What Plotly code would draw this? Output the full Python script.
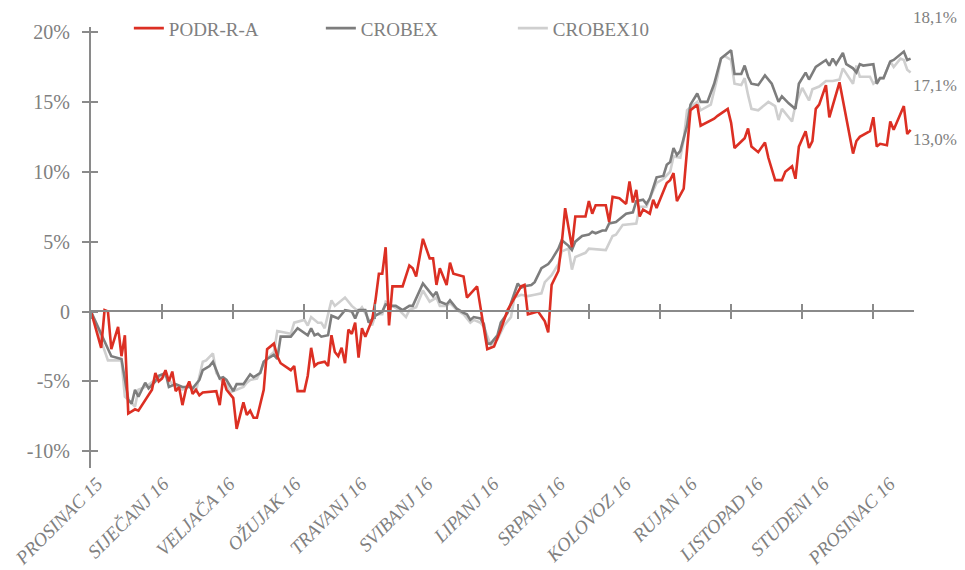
import plotly.graph_objects as go

# ---------------- data (trading-day index, % change) ----------------
podr_days = [0,3,4,5,6,7,8,9,10,11,13,14,18,19,20,21,22,23,24,25,26,27,28,29,30,31,32,33,37,38,39,40,42,43,45,46,47,48,49,51,52,54,55,56,59,60,61,63,64,65,66,67,69,70,71,72,73,74,75,76,77,78,79,80,81,82,83,84,85,86,87,88,89,92,94,95,96,98,100,101,102,103,105,106,107,110,111,114,115,117,119,121,123,125,127,128,129,132,134,135,136,138,139,140,142,143,146,147,148,149,152,153,154,156,158,159,160,161,162,163,165,166,167,170,171,172,173,175,177,179,180,184,185,188,189,190,193,194,195,197,199,200,202,204,205,207,208,209,211,212,213,214,215,217,218,221,225,226,227,230,231,232,233,235,236,237,240,241,242]
podr_vals = [0.0,-2.6,0.1,0.0,-2.7,-1.8,-1.1,-3.2,-1.7,-7.3,-7.0,-7.1,-5.6,-4.4,-5.0,-4.8,-4.2,-5.0,-4.3,-5.7,-5.4,-6.7,-5.6,-5.0,-5.9,-5.6,-6.0,-5.8,-5.7,-6.7,-4.8,-5.6,-6.2,-8.4,-6.5,-7.4,-7.1,-7.6,-7.6,-5.6,-2.7,-2.3,-3.2,-3.7,-4.2,-3.9,-5.7,-5.7,-4.6,-2.6,-3.9,-3.7,-3.6,-3.9,-1.7,-2.9,-3.2,-2.6,-3.7,-1.3,-1.6,-0.8,-3.3,-1.2,-1.8,-1.2,-0.6,0.8,2.7,2.7,4.6,-1.0,1.8,1.8,3.3,3.1,2.5,5.2,3.8,3.8,1.9,3.1,1.9,3.5,2.7,2.5,1.0,1.8,0.4,-2.7,-2.5,-1.3,0.1,1.0,1.8,1.9,-0.2,0.0,-0.7,-1.5,1.9,2.9,4.9,7.4,4.6,6.8,6.8,7.9,7.0,7.6,7.6,6.4,8.2,8.1,7.7,9.3,7.8,8.7,6.8,7.3,7.0,8.0,7.4,9.2,9.4,9.9,7.9,8.8,14.4,14.8,13.3,13.8,14.0,14.5,13.5,11.7,12.4,13.1,11.8,11.4,12.1,11.0,9.4,9.4,10.0,10.4,9.5,11.8,12.9,11.7,12.2,14.5,14.8,16.2,13.9,16.4,11.3,12.2,12.5,12.9,13.9,11.8,12.0,11.9,13.6,13.0,14.7,12.7,13.0]

crobex_days = [0,6,9,11,12,13,14,16,17,19,20,22,23,25,27,29,30,32,33,35,36,38,39,40,42,43,45,46,47,48,50,51,52,54,55,56,59,61,63,64,65,66,67,68,70,71,73,75,77,78,79,81,82,84,86,87,89,90,92,94,95,97,98,101,102,103,105,106,108,110,111,112,113,115,116,117,118,120,121,123,124,126,127,128,130,131,133,135,136,138,139,141,142,143,145,147,148,149,151,152,153,155,156,158,160,161,163,164,165,167,169,170,171,172,173,174,176,177,179,180,182,184,186,187,189,190,192,193,194,195,197,199,201,203,204,206,208,209,211,212,213,214,217,218,219,220,222,223,225,226,227,228,231,232,233,234,236,237,240,241,242]
crobex_vals = [0.0,-3.2,-3.4,-6.3,-6.6,-5.6,-6.1,-5.1,-5.5,-5.0,-4.6,-4.4,-5.4,-5.2,-5.4,-5.4,-5.5,-4.9,-4.2,-3.9,-3.6,-4.8,-4.7,-4.9,-5.7,-5.2,-5.2,-4.8,-4.5,-4.7,-4.4,-3.6,-3.4,-3.1,-3.4,-1.8,-1.8,-1.2,-1.5,-1.7,-1.2,-1.7,-1.6,-1.8,-1.7,-0.3,-0.5,0.1,0.0,-0.5,0.1,0.1,-0.8,-0.3,0.0,0.5,0.4,0.4,0.1,0.4,0.4,1.4,2.0,1.1,1.4,0.7,0.5,0.8,0.2,-0.1,-0.2,-0.6,-0.4,-0.5,-0.9,-2.3,-2.3,-1.7,-0.8,-0.1,0.6,2.0,1.7,1.8,1.9,2.1,3.1,3.4,3.7,4.5,5.1,4.7,4.4,5.0,5.4,5.5,5.7,5.6,5.8,5.8,6.3,6.4,6.6,7.0,7.1,7.9,8.0,7.7,8.1,9.6,9.7,10.5,10.7,11.7,11.2,11.5,13.3,14.8,15.6,15.0,15.0,16.3,18.1,18.3,18.7,17.0,17.0,17.6,16.8,16.3,16.2,16.9,16.3,15.0,15.4,14.9,14.5,16.3,17.1,16.6,17.1,17.5,18.0,17.6,18.1,17.7,18.5,17.7,17.4,17.1,17.7,17.6,17.7,16.3,16.7,16.7,17.9,18.0,18.6,18.0,18.1]

crobex10_days = [0,5,9,10,13,14,16,19,21,22,24,27,29,31,33,34,36,37,39,40,41,43,45,46,47,49,50,51,53,54,55,59,60,63,64,65,67,68,69,71,72,75,77,78,79,80,82,83,84,86,87,89,91,93,94,96,98,100,102,103,105,106,108,110,112,113,115,116,118,120,122,124,125,127,129,131,133,134,136,138,139,141,142,143,146,147,152,154,155,157,161,162,164,165,167,169,171,172,174,175,176,179,180,183,185,186,187,189,190,192,193,194,195,197,200,202,203,204,206,207,208,210,212,213,215,217,219,221,222,223,225,226,227,230,231,233,234,236,237,239,240,241,242]
crobex10_vals = [0.0,-3.5,-3.5,-6.1,-6.8,-5.6,-5.4,-4.9,-4.7,-4.6,-5.2,-5.6,-5.2,-5.7,-3.6,-3.5,-3.0,-4.4,-5.1,-5.2,-5.8,-5.6,-5.4,-5.1,-4.9,-4.8,-4.3,-3.6,-3.1,-2.9,-1.4,-1.6,-0.8,-0.6,-1.0,-0.4,-0.8,-0.8,-1.2,0.8,0.4,1.0,0.4,0.2,0.0,0.3,-0.6,-1.0,-0.2,-0.2,0.7,0.4,0.1,-0.4,0.1,0.3,1.5,0.7,1.0,0.4,0.4,0.6,0.1,-0.2,-0.8,-0.6,-0.8,-1.1,-2.4,-2.0,-1.0,-0.4,1.0,1.2,1.1,1.2,1.3,2.1,2.6,3.4,4.3,4.5,3.0,3.9,4.2,4.5,4.4,5.4,5.5,6.2,6.3,7.5,7.5,8.1,9.2,9.5,10.0,11.1,11.0,12.3,14.4,15.0,14.4,14.8,16.8,18.1,18.3,18.0,16.3,16.2,16.7,15.5,14.5,14.4,15.0,14.7,13.7,14.5,13.9,13.6,14.8,16.0,15.1,15.9,16.1,16.5,16.5,16.6,17.4,17.0,16.3,17.6,16.8,16.8,16.3,16.7,16.7,17.9,17.5,18.1,18.0,17.3,17.1]

series_names = ["PODR-R-A", "CROBEX", "CROBEX10"]
end_labels = ["13,0%", "18,1%", "17,1%"]
month_labels = ["PROSINAC 15", "SIJEČANJ 16", "VELJAČA 16", "OŽUJAK 16", "TRAVANJ 16",
                "SVIBANJ 16", "LIPANJ 16", "SRPANJ 16", "KOLOVOZ 16", "RUJAN 16",
                "LISTOPAD 16", "STUDENI 16", "PROSINAC 16"]
y_tickvals = [-10, -5, 0, 5, 10, 15, 20]
y_ticktext = ["-10%", "-5%", "0", "5%", "10%", "15%", "20%"]

# ---------------- style ----------------
RED = "#dc2f23"
DARK = "#7d7d7d"
LIGHT = "#cfcfcf"
AXIS = "#8a8a8a"
TEXT = "#808080"
FONT = "Liberation Serif"

X_MAX = 243
Y_MIN, Y_MAX = -11.2, 20.36
tick_step = 21                     # tick marks on the zero line
tick_marks = list(range(0, X_MAX, tick_step))
label_pos = [1.8 + 19.5 * i for i in range(len(month_labels))]

fig = go.Figure()
fig.add_trace(go.Scatter(x=crobex10_days, y=crobex10_vals, name=series_names[2], mode="lines",
                         line=dict(color=LIGHT, width=2.6), legendrank=3))
fig.add_trace(go.Scatter(x=crobex_days, y=crobex_vals, name=series_names[1], mode="lines",
                         line=dict(color=DARK, width=2.6), legendrank=2))
fig.add_trace(go.Scatter(x=podr_days, y=podr_vals, name=series_names[0], mode="lines",
                         line=dict(color=RED, width=2.6), legendrank=1))
for ax in ["x2", "x3"]:
    fig.add_trace(go.Scatter(x=[], y=[], xaxis=ax, showlegend=False, hoverinfo="skip"))
fig.add_trace(go.Scatter(x=[], y=[], yaxis="y2", showlegend=False, hoverinfo="skip"))

zero_pos = (0 - Y_MIN) / (Y_MAX - Y_MIN)

common_x = dict(range=[0, X_MAX], showgrid=False, zeroline=False, fixedrange=True, automargin=False)
fig.update_layout(
    width=957, height=562,
    margin=dict(l=83, r=51, t=19, b=102, autoexpand=False),
    plot_bgcolor="white", paper_bgcolor="white",
    font=dict(family=FONT, color=TEXT),
    xaxis=dict(**common_x, tickmode="array", tickvals=label_pos, ticktext=month_labels,
               tickangle=-45, ticks="", showline=False,
               tickfont=dict(family=FONT, size=19, color=TEXT, style="italic")),
    xaxis2=dict(**common_x, overlaying="x", anchor="free", position=zero_pos,
                tickmode="array", tickvals=tick_marks, showticklabels=False,
                ticks="outside", ticklen=7, tickwidth=2, tickcolor=AXIS,
                showline=True, linecolor=AXIS, linewidth=2),
    xaxis3=dict(**common_x, overlaying="x", anchor="free", position=zero_pos,
                tickmode="array", tickvals=tick_marks, showticklabels=False,
                ticks="inside", ticklen=7, tickwidth=2, tickcolor=AXIS, showline=False),
    yaxis=dict(range=[Y_MIN, Y_MAX], tickmode="array", tickvals=y_tickvals, ticktext=y_ticktext,
               showgrid=False, zeroline=False, showline=True, linecolor=AXIS, linewidth=2,
               ticks="outside", ticklen=7, tickwidth=2, tickcolor=AXIS,
               ticklabelstandoff=8, automargin=False,
               tickfont=dict(family=FONT, size=20, color=TEXT)),
    yaxis2=dict(range=[Y_MIN, Y_MAX], overlaying="y", tickmode="array", tickvals=y_tickvals,
                showticklabels=False, showgrid=False, zeroline=False, showline=False,
                ticks="inside", ticklen=7, tickwidth=2, tickcolor=AXIS, automargin=False),
    legend=dict(orientation="h", x=0.046, xanchor="left", y=0.997, yanchor="middle",
                bgcolor="rgba(0,0,0,0)", entrywidth=147, entrywidthmode="pixels",
                font=dict(family=FONT, size=19, color=TEXT), traceorder="normal"),
    showlegend=True,
)

# end-of-line value labels (placed in paper space beside the line ends)
label_paper_y = [0.744, 1.021, 0.868]
for txt, yv in zip(end_labels, label_paper_y):
    fig.add_annotation(x=1.0, y=yv, xref="paper", yref="paper", text=txt, showarrow=False,
                       xanchor="left", yanchor="middle", xshift=-3,
                       font=dict(family=FONT, size=17, color=TEXT))

fig.write_html("out.html")
